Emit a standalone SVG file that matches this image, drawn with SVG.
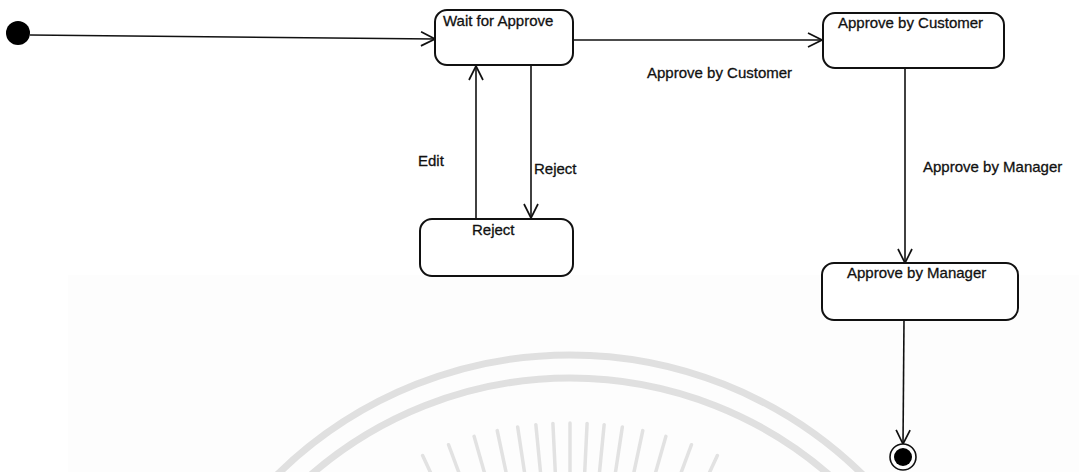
<svg xmlns="http://www.w3.org/2000/svg" width="1079" height="472" viewBox="0 0 1079 472">
<style>
.state{fill:#fff;stroke:#111;stroke-width:2}
.lbl{font-family:"Liberation Sans",Arial,sans-serif;font-size:15px;fill:#111;stroke:#111;stroke-width:0.3}
.edge{fill:none;stroke:#111;stroke-width:1.6}
.wm{fill:none;stroke:#e0e0e0;stroke-width:7}
.ray{stroke:#e2e2e2;stroke-width:3.5;stroke-linecap:round}
</style>
<defs>
<marker id="open" viewBox="0 0 16 16" refX="15" refY="8" markerWidth="16" markerHeight="16" markerUnits="userSpaceOnUse" orient="auto">
<path d="M1,1 L15,8 L1,15" fill="none" stroke="#111" stroke-width="1.7"/>
</marker>
</defs>
<rect width="1079" height="472" fill="#fff"/>
<g id="watermark">
<rect x="68" y="275" width="1011" height="197" fill="#fdfdfd"/>
<circle class="wm" cx="570" cy="773" r="418"/>
<circle class="wm" cx="570" cy="773" r="395"/>
<g transform="translate(570 773)">
<line class="ray" x1="0" y1="-350" x2="0" y2="-280"/>
<line class="ray" x1="0" y1="-350" x2="0" y2="-280" transform="rotate(-2.8)"/>
<line class="ray" x1="0" y1="-350" x2="0" y2="-280" transform="rotate(2.8)"/>
<line class="ray" x1="0" y1="-350" x2="0" y2="-280" transform="rotate(-5.6)"/>
<line class="ray" x1="0" y1="-350" x2="0" y2="-280" transform="rotate(5.6)"/>
<line class="ray" x1="0" y1="-350" x2="0" y2="-280" transform="rotate(-8.6)"/>
<line class="ray" x1="0" y1="-350" x2="0" y2="-280" transform="rotate(8.6)"/>
<line class="ray" x1="0" y1="-350" x2="0" y2="-280" transform="rotate(-12)"/>
<line class="ray" x1="0" y1="-350" x2="0" y2="-280" transform="rotate(12)"/>
<line class="ray" x1="0" y1="-350" x2="0" y2="-280" transform="rotate(-15.9)"/>
<line class="ray" x1="0" y1="-350" x2="0" y2="-280" transform="rotate(15.9)"/>
<line class="ray" x1="0" y1="-350" x2="0" y2="-280" transform="rotate(-20.3)"/>
<line class="ray" x1="0" y1="-350" x2="0" y2="-280" transform="rotate(20.3)"/>
<line class="ray" x1="0" y1="-350" x2="0" y2="-280" transform="rotate(-24.9)"/>
<line class="ray" x1="0" y1="-350" x2="0" y2="-280" transform="rotate(24.9)"/>
</g>
</g>
<g id="connectors">
<line class="edge" x1="30" y1="35" x2="435" y2="39" marker-end="url(#open)"/>
<line class="edge" x1="573" y1="40" x2="822" y2="40" marker-end="url(#open)"/>
<text class="lbl" x="647" y="78">Approve by Customer</text>
<line class="edge" x1="476" y1="219" x2="476" y2="66" marker-end="url(#open)"/>
<text class="lbl" x="418" y="166">Edit</text>
<line class="edge" x1="531" y1="65" x2="531" y2="218" marker-end="url(#open)"/>
<text class="lbl" x="534" y="174">Reject</text>
<line class="edge" x1="905" y1="68" x2="905" y2="263" marker-end="url(#open)"/>
<text class="lbl" x="923" y="172">Approve by Manager</text>
<line class="edge" x1="904" y1="320" x2="903" y2="444" marker-end="url(#open)"/>
</g>
<g id="initial">
<circle cx="18" cy="33" r="12" fill="#000"/>
</g>
<g id="wait-for-approve">
<rect class="state" x="435" y="10" width="138" height="55" rx="12"/>
<text class="lbl" x="443" y="26">Wait for Approve</text>
</g>
<g id="reject">
<rect class="state" x="420" y="219" width="153" height="57" rx="12"/>
<text class="lbl" x="472" y="235">Reject</text>
</g>
<g id="approve-by-customer">
<rect class="state" x="823" y="13" width="181" height="55" rx="12"/>
<text class="lbl" x="838" y="28">Approve by Customer</text>
</g>
<g id="approve-by-manager">
<rect class="state" x="822" y="263" width="196" height="57" rx="12"/>
<text class="lbl" x="847" y="278">Approve by Manager</text>
</g>
<g id="final">
<circle cx="903" cy="457" r="13" fill="#fff" stroke="#111" stroke-width="1.6"/>
<circle cx="903" cy="457" r="9" fill="#000"/>
</g>
</svg>
